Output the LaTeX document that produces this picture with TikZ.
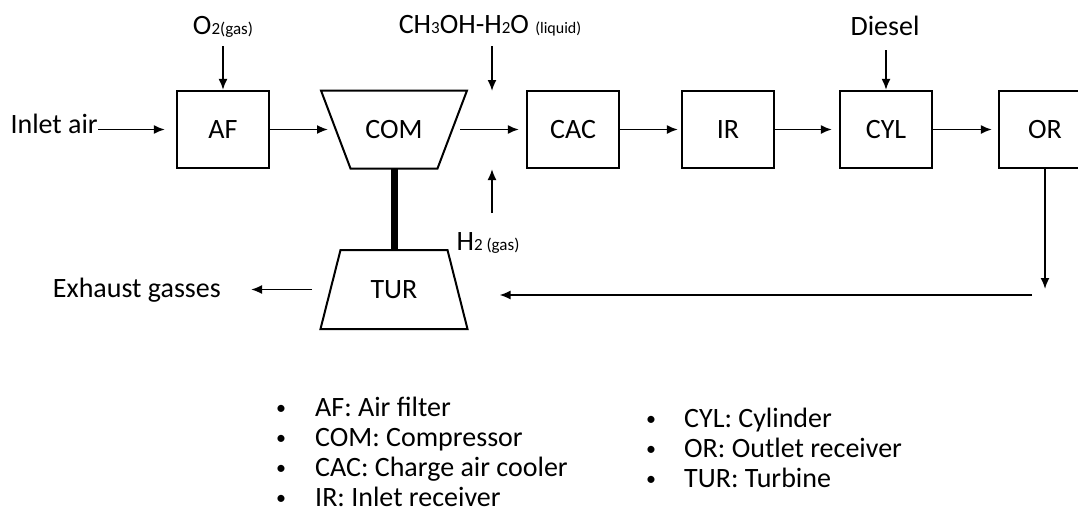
\documentclass[tikz,border=0pt]{standalone}
\usepackage{fontspec}
\setmainfont{Carlito}
\usetikzlibrary{arrows.meta}
\newcommand{\smallsub}[1]{{\fontsize{17}{18}\selectfont #1}}
\newcommand{\legbullet}{\raisebox{1.5pt}{\fontsize{20}{20}\selectfont\textbullet}}
\begin{document}
\begin{tikzpicture}[x=1pt,y=-1pt,
  lbl/.style={font=\fontsize{28}{30}\selectfont, inner sep=0pt, anchor=base},
  leg/.style={font=\fontsize{28}{30}\selectfont, inner sep=0pt, anchor=base west},
  unit/.style={draw, line width=2.2pt, minimum width=92pt, minimum height=77pt,
    font=\fontsize{28}{30}\selectfont, inner sep=0pt},
  trapcore/.style={inner sep=0pt, outer sep=0pt, font=\fontsize{28}{30}\selectfont},
  trapline/.style={line width=2pt, line join=miter},
  arr/.style={line width=1.8pt, -{Latex[length=11pt,width=9pt]}},
  shaft/.style={line width=7pt}
]
\useasboundingbox (0,0) rectangle (1078,522);
\clip (0,0) rectangle (1078,522);

% units
\node[unit] (af)  at (223,129.5) {AF};
\node[trapcore, minimum width=87pt, minimum height=78pt] (com) at (394,129.5) {COM};
\draw[trapline] ([xshift=-29.5pt]com.north west) -- ([xshift=29.5pt]com.north east)
  -- (com.south east) -- (com.south west) -- cycle;
\node[unit] (cac) at (573,129.5) {CAC};
\node[unit] (ir)  at (728,129.5) {IR};
\node[unit] (cyl) at (886,129.5) {CYL};
\node[unit] (or)  at (1045,129.5) {OR};
\node[trapcore, minimum width=107pt, minimum height=79pt] (tur) at (394,289.5) {TUR};
\draw[trapline] (tur.north west) -- (tur.north east)
  -- ([xshift=20pt]tur.south east) -- ([xshift=-20pt]tur.south west) -- cycle;

% labels
\node[lbl, anchor=base east] (inlet) at (98,133) {Inlet air};
\node[lbl] (o2) at (223,34) {O\smallsub{2(gas)}};
\node[lbl] (ch3) at (490,33) {CH\smallsub{3}OH-H\smallsub{2}O {\fontsize{16}{17}\selectfont (liquid)}};
\node[lbl] (diesel) at (885,35) {Diesel};
\node[lbl] (h2) at (488,250) {H\smallsub{2 (gas)}};
\node[lbl, anchor=base east] (exh) at (221,297) {Exhaust gasses};

\coordinate (mixtop) at (492,91);
\coordinate (h2tip) at (492,169);
\coordinate (ordown) at (1045,289);
\coordinate (retstart) at (1032,295);

% connectors
\draw[arr, shorten >=11pt] (inlet.east |- af.west) -- (af.west);
\draw[arr] ([yshift=-12pt]o2.base) -- (af.north);
\draw[arr, shorten >=22.5pt] (af.east) -- (com.west);
\draw[arr, shorten <=22.5pt, shorten >=7pt] (com.east) -- (cac.west);
\draw[arr, shorten <=13pt] (mixtop |- ch3.base) -- (mixtop);
\draw[arr, shorten <=37pt] (h2tip |- h2.base) -- (h2tip);
\draw[arr, shorten >=3pt] (cac.east) -- (ir.west);
\draw[arr, shorten >=7pt] (ir.east) -- (cyl.west);
\draw[arr, shorten <=15pt] (cyl.north |- diesel.base) -- (cyl.north);
\draw[arr, shorten >=6pt] (cyl.east) -- (or.west);
\draw[arr] (or.south) -- (ordown);
\draw[arr, shorten >=52pt] (retstart) -- (tur.east |- retstart);
\draw[arr, shorten <=28.5pt, shorten >=30pt] (tur.west) -- (exh.east |- tur.west);
\draw[shaft] (com.south) -- (tur.north);

% legend
\node[leg] (b1) at (276,416) {\legbullet};
\node[leg] (t1) at (315,416) {AF: Air filter};
\node[leg] (b2) at (276,446) {\legbullet};
\node[leg] (t2) at (315,446) {COM: Compressor};
\node[leg] (b3) at (276,476) {\legbullet};
\node[leg] (t3) at (315,476) {CAC: Charge air cooler};
\node[leg] (b4) at (276,506) {\legbullet};
\node[leg] (t4) at (315,506) {IR: Inlet receiver};
\node[leg] (b5) at (646,427) {\legbullet};
\node[leg] (t5) at (684,427) {CYL: Cylinder};
\node[leg] (b6) at (646,457) {\legbullet};
\node[leg] (t6) at (684,457) {OR: Outlet receiver};
\node[leg] (b7) at (646,487) {\legbullet};
\node[leg] (t7) at (684,487) {TUR: Turbine};
\end{tikzpicture}
\end{document}
